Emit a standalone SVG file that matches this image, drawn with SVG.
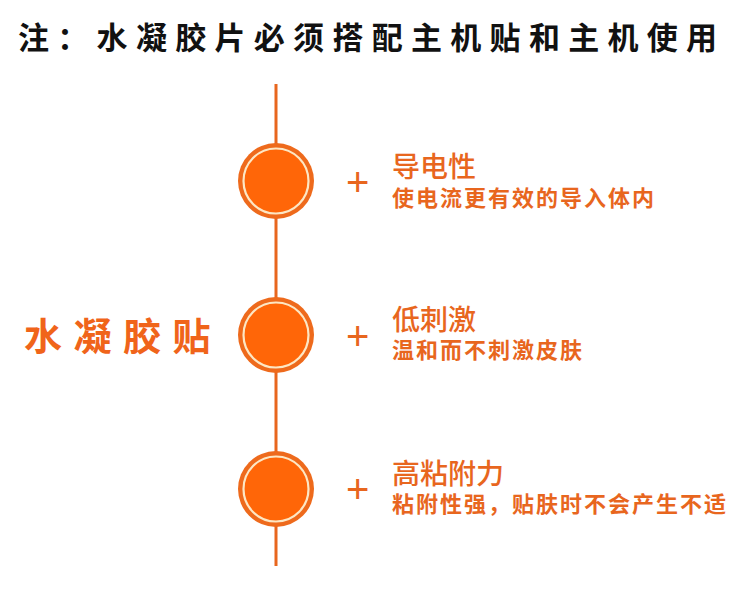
<svg xmlns="http://www.w3.org/2000/svg" width="750" height="591" viewBox="0 0 750 591">
<style>
.title{font-family:"Noto Sans CJK SC","Liberation Sans",sans-serif;font-weight:bold;font-size:31px;fill:#111;letter-spacing:8.3px}
.main{font-family:"Noto Sans CJK SC","Liberation Sans",sans-serif;font-weight:bold;font-size:38px;fill:#f0641a;letter-spacing:11.5px}
.head{font-family:"Noto Sans CJK SC","Liberation Sans",sans-serif;font-weight:500;font-size:28px;fill:#e8661e}
.sub{font-family:"Noto Sans CJK SC","Liberation Sans",sans-serif;font-weight:bold;font-size:22px;fill:#e8661e;letter-spacing:2px}
.plus{font-family:"Liberation Sans",sans-serif;font-size:40px;fill:#e8661e}
.outer{fill:#ee6a1c}
.ring{fill:none;stroke:#fde7c4;stroke-width:2.2}
.inner{fill:#ff6608}
</style>
<text class="title" x="18" y="49">注：水凝胶片必须搭配主机贴和主机使用</text>
<g id="connectors">
<line x1="276" y1="84" x2="276" y2="566" stroke="#e8661e" stroke-width="3"/>
</g>
<g id="label"><text class="main" x="24" y="350">水凝胶贴</text></g>
<g id="node1">
<circle class="outer" cx="276" cy="181" r="38"/>
<circle class="inner" cx="276" cy="181" r="32"/>
<circle class="ring" cx="276" cy="181" r="32.5"/>
<text class="plus" x="346" y="196">+</text>
<text class="head" x="392" y="177">导电性</text>
<text class="sub" x="392" y="206">使电流更有效的导入体内</text>
</g>
<g id="node2">
<circle class="outer" cx="276" cy="335" r="38"/>
<circle class="inner" cx="276" cy="335" r="32"/>
<circle class="ring" cx="276" cy="335" r="32.5"/>
<text class="plus" x="346" y="350">+</text>
<text class="head" x="392" y="330">低刺激</text>
<text class="sub" x="392" y="358">温和而不刺激皮肤</text>
</g>
<g id="node3">
<circle class="outer" cx="276" cy="489" r="38"/>
<circle class="inner" cx="276" cy="489" r="32"/>
<circle class="ring" cx="276" cy="489" r="32.5"/>
<text class="plus" x="346" y="503">+</text>
<text class="head" x="392" y="484">高粘附力</text>
<text class="sub" x="392" y="512">粘附性强，贴肤时不会产生不适</text>
</g>
</svg>
